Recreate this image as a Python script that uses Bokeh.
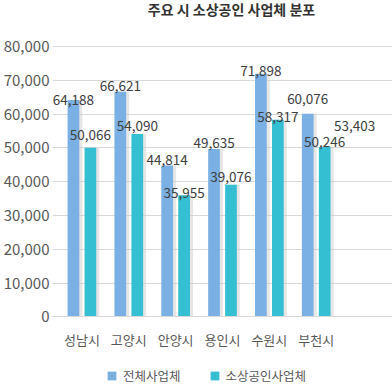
from bokeh.plotting import figure
from bokeh.models import ColumnDataSource, FactorRange, Range1d, Label, Legend, LegendItem, NumeralTickFormatter
from bokeh.transform import dodge
from bokeh.core.properties import value
from bokeh.embed import file_html
from bokeh.resources import INLINE

# ---- data ----
title = "주요 시 소상공인 사업체 분포"
cities = ["성남시", "고양시", "안양시", "용인시", "수원시", "부천시"]
total = [64188, 66621, 44814, 49635, 71898, 60076]
small = [50066, 54090, 35955, 39076, 58317, 50246]
series_names = ["전체사업체", "소상공인사업체"]
extra_cat = " "          # unnamed 7th slot that only carries a label
extra_value = 53403
y_ticks = [0, 10000, 20000, 30000, 40000, 50000, 60000, 70000, 80000]

# ---- styles ----
BLUE = "#7ab0e4"
TEAL = "#35bfd2"
FONT = "Noto Sans CJK KR"
TXT = "#404040"
# vertical nudges (px) of value labels above bar tops, as in the original
nudge_total = [0, 6, 5, 6, 3, 15]
nudge_small = [13, 8.5, 2.5, 7.5, 2.5, 5]
nudge_extra = 10

factors = cities + [extra_cat]

src = ColumnDataSource(dict(
    cat=cities, total=total, small=small,
    total_txt=[f"{v:,}" for v in total],
    small_txt=[f"{v:,}" for v in small],
    total_off=[-n for n in nudge_total],
    small_off=[-n for n in nudge_small],
))
extra_src = ColumnDataSource(dict(cat=[extra_cat], v=[extra_value], txt=[f"{extra_value:,}"]))

# frame spans full canvas height; value axis scaled so 0..80,000 sits at 316..46 px
W_PX, H = 392, 387
LEFT = 51
px_per_unit = (316.3 - 46) / 80000
y_lo = -(H - 316.3) / px_per_unit
y_hi = 80000 + 46 / px_per_unit

p = figure(width=W_PX, height=H,
           x_range=FactorRange(*factors, range_padding=0.128, range_padding_units="absolute"),
           y_range=Range1d(y_lo, y_hi), output_backend="svg", toolbar_location=None,
           title=None,
           min_border_left=LEFT, min_border_right=0, min_border_top=0, min_border_bottom=0)
p.outline_line_color = None
p.background_fill_color = "white"
p.border_fill_color = "white"

OFF = 0.181
W = 0.25
SH = 0.065

# shadows
p.vbar(x=dodge("cat", -OFF + SH, range=p.x_range), top="total", width=W, source=src,
       fill_color="#c8c8c8", fill_alpha=0.45, line_color=None)
p.vbar(x=dodge("cat", OFF + SH, range=p.x_range), top="small", width=W, source=src,
       fill_color="#c8c8c8", fill_alpha=0.45, line_color=None)

r1 = p.vbar(x=dodge("cat", -OFF, range=p.x_range), top="total", width=W, source=src,
            fill_color=BLUE, line_color=None)
r2 = p.vbar(x=dodge("cat", OFF, range=p.x_range), top="small", width=W, source=src,
            fill_color=TEAL, line_color=None)

VFS = "13.5px"
p.text(x=dodge("cat", -OFF, range=p.x_range), y="total", text="total_txt", y_offset="total_off",
       source=src, text_align="center", text_baseline="alphabetic",
       text_font=value(FONT), text_font_size=VFS, text_color=TXT)
p.text(x=dodge("cat", OFF, range=p.x_range), y="small", text="small_txt", y_offset="small_off",
       source=src, text_align="center", text_baseline="alphabetic",
       text_font=value(FONT), text_font_size=VFS, text_color=TXT)
p.text(x=dodge("cat", -OFF, range=p.x_range), y="v", text="txt", y_offset=-nudge_extra,
       source=extra_src, text_align="center", text_baseline="alphabetic",
       text_font=value(FONT), text_font_size=VFS, text_color=TXT)

# axes
p.yaxis.ticker = y_ticks
p.yaxis.formatter = NumeralTickFormatter(format="0,0")
p.yaxis.axis_line_color = None
p.yaxis.major_tick_line_color = None
p.yaxis.minor_tick_line_color = None
p.yaxis.major_tick_out = 0
p.yaxis.major_tick_in = 0
p.yaxis.major_label_standoff = 3
p.yaxis.major_label_text_font = FONT
p.yaxis.major_label_text_font_size = "15px"
p.yaxis.major_label_text_color = "#595959"

p.xaxis.fixed_location = 0
p.xaxis.axis_line_color = "#d9d9d9"
p.xaxis.major_tick_line_color = None
p.xaxis.minor_tick_line_color = None
p.xaxis.major_label_standoff = 7
p.xaxis.major_label_text_font = FONT
p.xaxis.major_label_text_font_size = "13px"
p.xaxis.major_label_text_color = "#595959"

p.xgrid.grid_line_color = None
p.ygrid.grid_line_color = "#d9d9d9"
p.ygrid.grid_line_width = 1

# title (screen units relative to the plot frame)
p.add_layout(Label(x=230 - LEFT, y=H - 8.5, x_units="screen", y_units="screen", text=title,
                   text_align="center", text_baseline="middle", text_font=FONT,
                   text_font_size="14px", text_font_style="bold", text_color="#333333"))

legend = Legend(items=[LegendItem(label=series_names[0], renderers=[r1]),
                       LegendItem(label=series_names[1], renderers=[r2])],
                location=(105 - LEFT, 2), orientation="horizontal",
                glyph_width=11, glyph_height=11, label_height=13, label_standoff=6,
                spacing=28, padding=0, margin=0, border_line_color=None,
                background_fill_alpha=0,
                label_text_font=FONT, label_text_font_size="12.5px", label_text_color="#595959")
p.add_layout(legend, "center")

open("out.html", "w").write(file_html(p, INLINE))
